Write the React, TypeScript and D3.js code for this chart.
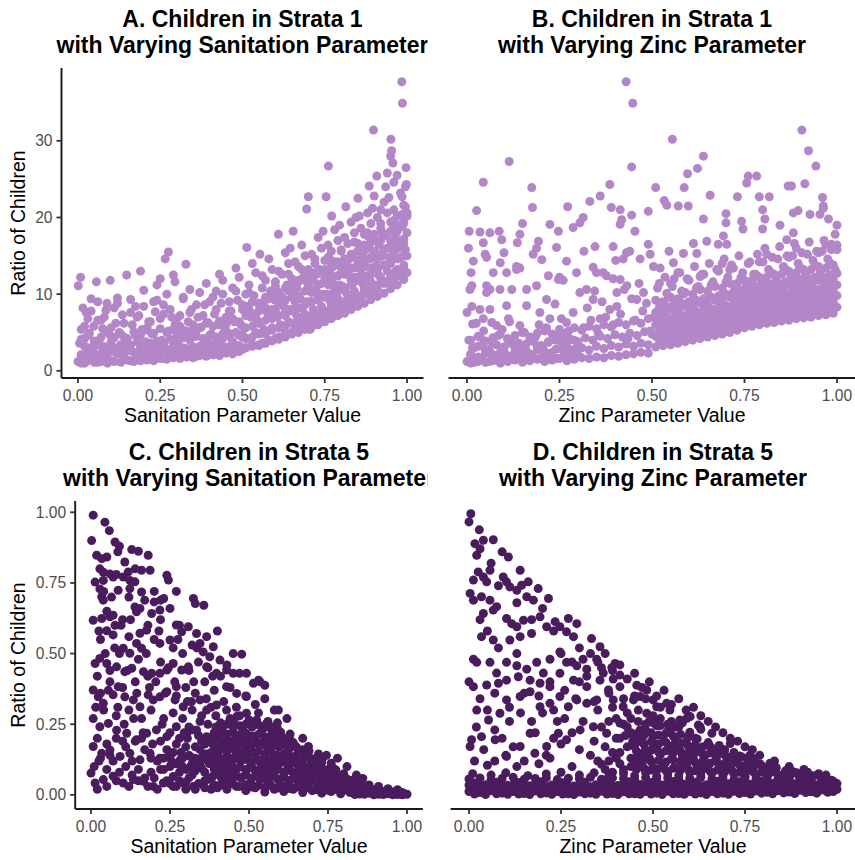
import React from 'react';
import * as d3 from 'd3';

type Pt = [number, number];

// tick values
const xTicks = [0, 0.25, 0.5, 0.75, 1];
const yTicksStrata1 = [0, 10, 20, 30];
const yTicksStrata5 = [0, 0.25, 0.5, 0.75, 1];

// A. strata 1, sanitation parameter (scattered points)
const sanitationStrata1: Pt[] = [
  [0,1.2],[0.01,2.1],[0.02,1.0],[0.03,3.0],[0.005,3.6],[0.04,1.6],[0.02,4.2],[0.045,2.6],[0.01,5.4],[0.03,6.8],[0.015,8.2],[0.04,9.4],[0.008,12.2],[0.001,11.1],[0.035,4.9],[0.05,3.8],[0.025,7.6],[0.048,5.8],
  [0.056,11.6],[0.06,1.1],[0.07,2.0],[0.08,3.1],[0.065,4.0],[0.09,1.4],[0.075,5.5],[0.085,7.9],[0.098,11.8],[0.06,9.0],[0.095,2.7],[0.07,6.6],[0.1,4.5],[0.088,8.8],
  [0.11,1.2],[0.12,2.3],[0.13,3.4],[0.105,3.0],[0.14,1.6],[0.125,5.0],[0.115,6.2],[0.135,7.3],[0.148,12.5],[0.145,2.6],[0.12,9.5],[0.14,4.4],[0.11,8.2],
  [0.16,1.3],[0.17,2.4],[0.18,1.6],[0.155,3.5],[0.19,3.1],[0.175,4.6],[0.165,6.0],[0.185,7.2],[0.19,13.0],[0.2,2.0],[0.16,9.3],[0.195,5.4],[0.175,8.4],[0.2,10.5],
  [0.21,1.4],[0.22,2.6],[0.23,1.8],[0.205,3.8],[0.24,3.3],[0.225,4.8],[0.215,6.4],[0.235,7.7],[0.24,11.2],[0.25,12.0],[0.245,2.2],[0.23,9.0],[0.21,5.6],[0.25,6.8],
  [0.26,1.6],[0.27,2.8],[0.28,2.0],[0.255,4.0],[0.29,3.6],[0.275,5.2],[0.265,14.6],[0.275,15.5],[0.29,12.5],[0.295,11.6],[0.3,2.4],[0.285,7.0],[0.26,8.6],[0.295,6.0],[0.27,10.0],[0.3,4.6],
  [0.31,1.8],[0.32,3.0],[0.33,2.3],[0.305,3.9],[0.34,4.2],[0.315,5.4],[0.328,13.9],[0.335,6.4],[0.345,8.0],[0.32,9.4],[0.35,2.6],[0.31,7.2],[0.35,5.2],[0.34,10.6],
  [0.36,1.9],[0.37,3.2],[0.38,2.5],[0.355,4.5],[0.39,4.0],[0.375,5.7],[0.365,7.0],[0.385,8.6],[0.4,2.2],[0.395,6.3],[0.37,10.2],[0.39,11.4],[0.36,5.2],[0.4,3.6],
  [0.41,2.1],[0.42,3.4],[0.43,2.7],[0.405,4.8],[0.44,4.2],[0.425,6.0],[0.415,7.4],[0.435,8.8],[0.45,2.4],[0.445,5.6],[0.42,10.4],[0.44,11.8],[0.41,9.6],[0.45,7.0],[0.43,12.6],
  [0.46,2.6],[0.47,3.8],[0.48,3.0],[0.455,5.0],[0.49,4.6],[0.475,6.4],[0.465,7.8],[0.485,9.2],[0.5,2.8],[0.495,6.0],[0.47,10.8],[0.49,12.2],[0.46,9.0],[0.5,8.0],[0.48,13.4],[0.5,4.4],
  [0.513,16.1],[0.51,3.0],[0.52,4.2],[0.53,3.4],[0.505,5.6],[0.54,5.0],[0.525,7.0],[0.515,8.4],[0.535,9.8],[0.55,3.4],[0.545,6.6],[0.52,11.2],[0.54,12.8],[0.553,15.2],[0.51,10.0],[0.55,8.6],[0.53,14.0],
  [0.56,3.6],[0.57,4.8],[0.58,4.0],[0.555,6.2],[0.59,5.6],[0.575,7.6],[0.565,9.0],[0.585,10.4],[0.6,4.2],[0.595,7.2],[0.57,11.8],[0.59,13.2],[0.56,12.4],[0.6,9.2],[0.58,14.6],[0.6,11.0],[0.565,5.4],
  [0.609,17.8],[0.61,4.4],[0.62,5.6],[0.63,4.8],[0.605,7.0],[0.64,6.4],[0.625,8.4],[0.615,9.8],[0.635,11.2],[0.65,5.0],[0.645,8.0],[0.62,12.6],[0.64,14.0],[0.61,13.0],[0.65,10.2],[0.63,15.4],[0.65,12.0],[0.615,6.0],[0.645,16.0],
  [0.654,18.2],[0.66,5.4],[0.67,6.6],[0.68,5.8],[0.655,8.0],[0.69,7.4],[0.675,9.4],[0.665,10.8],[0.685,12.2],[0.7,6.0],[0.695,9.0],[0.67,13.6],[0.69,15.0],[0.66,14.2],[0.7,11.2],[0.68,16.4],[0.7,13.2],[0.665,7.2],[0.7,22.7],[0.695,21.1],
  [0.71,6.4],[0.72,7.6],[0.73,6.8],[0.705,9.0],[0.74,8.4],[0.725,10.4],[0.715,11.8],[0.735,13.2],[0.75,7.0],[0.745,10.0],[0.72,14.6],[0.74,16.0],[0.71,15.2],[0.75,12.2],[0.73,17.4],[0.75,14.4],[0.715,8.0],[0.745,18.2],[0.725,12.6],[0.705,5.4],
  [0.754,22.7],[0.761,26.7],[0.771,20.2],[0.76,7.2],[0.77,8.6],[0.78,7.8],[0.755,10.0],[0.79,9.4],[0.775,11.4],[0.765,12.8],[0.785,14.2],[0.8,8.0],[0.795,11.2],[0.77,15.6],[0.79,17.0],[0.76,16.4],[0.8,13.4],[0.78,18.4],[0.8,15.6],[0.765,9.2],[0.795,19.0],[0.775,13.6],
  [0.814,21.4],[0.81,8.2],[0.82,9.6],[0.83,8.8],[0.805,11.0],[0.84,10.4],[0.825,12.4],[0.815,13.8],[0.835,15.2],[0.85,9.0],[0.845,12.2],[0.82,16.6],[0.84,18.0],[0.81,17.4],[0.85,14.4],[0.83,19.4],[0.85,16.6],[0.815,10.2],[0.845,20.0],[0.825,14.6],[0.835,11.4],
  [0.851,22.5],[0.885,24.1],[0.898,31.4],[0.86,9.4],[0.87,10.8],[0.88,10.0],[0.855,12.2],[0.89,11.6],[0.875,13.6],[0.865,15.0],[0.885,16.4],[0.9,10.4],[0.895,13.4],[0.87,17.8],[0.89,19.2],[0.86,18.6],[0.9,15.6],[0.88,20.6],[0.9,17.8],[0.865,11.4],[0.895,21.2],[0.875,15.8],[0.855,20.2],
  [0.9,22.8],[0.908,25.4],[0.94,25.8],[0.91,10.8],[0.92,12.2],[0.93,11.4],[0.905,13.6],[0.94,13.0],[0.925,15.0],[0.915,16.4],[0.935,17.8],[0.95,11.6],[0.945,14.8],[0.92,19.2],[0.94,20.6],[0.91,20.0],[0.95,17.0],[0.93,22.0],[0.95,19.4],[0.915,12.4],[0.945,22.6],[0.925,18.0],[0.951,30.2],[0.953,28.7],[0.95,28.0],[0.935,24.0],
  [0.957,27.1],[0.984,37.7],[0.986,34.9],[0.997,26.5],[0.998,24.3],[0.985,22.7],[0.995,21.4],[0.96,11.8],[0.97,13.2],[0.98,12.4],[0.955,14.6],[0.99,13.8],[0.975,16.0],[0.965,17.4],[0.985,18.8],[1.0,12.8],[0.995,15.8],[0.97,20.2],[0.99,21.6],[0.96,21.0],[1.0,18.0],[0.98,23.2],[1.0,20.2],[0.965,13.0],[0.995,24.0],[0.975,19.0],[0.96,24.6],[0.99,16.6],[1.0,15.0],[0.97,25.5],
  [0.52,8.0],[0.54,7.4],[0.56,8.2],[0.58,9.4],[0.6,8.0],[0.62,9.6],[0.63,7.2],[0.64,10.4],[0.66,9.0],[0.67,11.8],[0.68,8.2],[0.69,12.8],[0.71,10.2],[0.72,12.8],[0.73,9.6],[0.74,11.4],[0.76,11.2],[0.77,14.4],[0.78,10.6],[0.79,12.4],[0.81,12.6],[0.82,14.6],[0.83,11.8],[0.84,13.4],[0.86,13.2],[0.87,16.4],[0.88,12.4],[0.89,14.6],[0.91,14.6],[0.92,17.0],[0.93,13.8],[0.94,16.0],[0.96,15.6],[0.97,18.2],[0.98,14.8],[0.99,19.4],[0.88,18.0],[0.92,21.0],[0.96,19.0],[0.985,20.4],
];

// A. the solid low band, x < 0.5
const sanitationStrata1Band: Pt[] = [
  [0.01,1.0],[0.03,1.3],[0.05,1.1],[0.07,1.2],[0.09,1.0],[0.11,1.3],[0.13,1.1],[0.15,1.4],[0.17,1.2],[0.19,1.3],[0.21,1.5],[0.23,1.3],[0.25,1.6],[0.27,1.5],[0.29,1.7],[0.31,1.6],[0.33,1.8],[0.35,1.7],[0.37,2.0],[0.39,1.9],[0.41,2.1],[0.43,2.0],[0.45,2.3],[0.47,2.2],[0.49,2.5],
  [0.01,2.0],[0.03,2.4],[0.05,1.9],[0.07,2.3],[0.09,2.1],[0.11,2.5],[0.13,2.2],[0.15,2.6],[0.17,2.4],[0.19,2.2],[0.21,2.7],[0.23,2.5],[0.25,2.8],[0.27,2.6],[0.29,3.0],[0.31,2.7],[0.33,2.9],[0.35,3.1],[0.37,2.8],[0.39,3.2],[0.41,3.0],[0.43,3.4],[0.45,3.1],[0.47,3.5],[0.49,3.3],
  [0.02,3.2],[0.04,2.9],[0.06,3.4],[0.08,3.1],[0.1,3.6],[0.12,3.0],[0.14,3.5],[0.16,3.3],[0.18,3.8],[0.2,3.4],[0.22,3.6],[0.24,3.9],[0.26,3.5],[0.28,4.1],[0.3,3.8],[0.32,4.3],[0.34,4.0],[0.36,4.5],[0.38,4.2],[0.4,4.6],[0.42,4.4],[0.44,4.8],[0.46,4.5],[0.48,5.0],[0.5,4.7],
  [0.01,4.1],[0.03,4.6],[0.05,3.9],[0.07,4.4],[0.09,5.0],[0.11,4.3],[0.13,4.8],[0.15,4.2],[0.17,5.1],[0.19,4.7],[0.21,5.3],[0.23,4.9],[0.25,5.5],[0.27,5.0],[0.29,5.4],[0.31,5.8],[0.33,5.2],[0.35,6.0],[0.37,5.6],[0.39,6.2],[0.41,5.8],[0.43,6.5],[0.45,6.0],[0.47,6.8],[0.49,6.4],
  [0.02,5.8],[0.06,6.6],[0.1,5.6],[0.14,6.2],[0.18,7.0],[0.22,6.4],[0.26,7.4],[0.3,6.8],[0.34,7.6],[0.38,7.2],[0.42,8.0],[0.46,7.8],[0.5,8.6],
  [0.04,7.8],[0.08,7.0],[0.12,8.8],[0.16,7.6],[0.2,8.4],[0.24,9.2],[0.28,8.0],[0.32,9.6],[0.36,8.6],[0.4,9.0],[0.44,10.0],[0.48,10.4],
];

// A. the rising mass, x > 0.5
const sanitationStrata1Mass: Pt[] = [
  [0.51,3.0],[0.53,3.2],[0.55,3.3],[0.57,3.6],[0.59,3.9],[0.61,4.1],[0.63,4.4],[0.65,4.8],[0.67,5.0],[0.69,5.4],[0.71,5.7],[0.73,6.0],[0.75,6.4],[0.77,6.8],[0.79,7.2],[0.81,7.5],[0.83,8.0],[0.85,8.4],[0.87,8.8],[0.89,9.3],[0.91,9.7],[0.93,10.1],[0.95,10.7],[0.97,11.2],[0.99,11.9],
  [0.51,4.2],[0.53,4.4],[0.55,4.8],[0.57,5.0],[0.59,5.3],[0.61,5.6],[0.63,5.8],[0.65,6.2],[0.67,6.4],[0.69,6.8],[0.71,7.1],[0.73,7.4],[0.75,7.8],[0.77,8.2],[0.79,8.6],[0.81,9.0],[0.83,9.4],[0.85,9.8],[0.87,10.2],[0.89,10.8],[0.91,11.2],[0.93,11.6],[0.95,12.2],[0.97,12.6],[0.99,13.2],
  [0.51,5.6],[0.53,5.8],[0.55,6.2],[0.57,6.6],[0.59,6.8],[0.61,7.2],[0.63,7.6],[0.65,7.8],[0.67,8.2],[0.69,8.6],[0.71,9.0],[0.73,9.2],[0.75,9.6],[0.77,10.0],[0.79,10.4],[0.81,10.8],[0.83,11.2],[0.85,11.8],[0.87,12.2],[0.89,12.6],[0.91,13.2],[0.93,13.8],[0.95,14.0],[0.97,14.6],[0.99,15.0],
  [0.51,7.2],[0.53,7.0],[0.55,7.8],[0.57,8.2],[0.59,8.0],[0.61,8.8],[0.63,9.2],[0.65,9.6],[0.67,9.8],[0.69,10.4],[0.71,10.6],[0.73,11.2],[0.75,11.6],[0.77,12.0],[0.79,12.4],[0.81,12.8],[0.83,13.4],[0.85,13.8],[0.87,14.4],[0.89,14.8],[0.91,15.2],[0.93,15.8],[0.95,16.2],[0.97,16.8],[0.99,17.2],
  [0.51,8.4],[0.53,9.0],[0.55,8.8],[0.57,9.6],[0.59,10.0],[0.61,10.2],[0.63,10.8],[0.65,11.2],[0.67,11.6],[0.69,11.8],[0.71,12.4],[0.73,12.8],[0.75,13.2],[0.77,13.8],[0.79,14.2],[0.81,14.6],[0.83,15.2],[0.85,15.6],[0.87,16.2],[0.89,16.8],[0.91,17.0],[0.93,17.6],[0.95,18.2],[0.97,18.8],[0.99,19.2],
  [0.52,10.2],[0.56,10.8],[0.6,11.6],[0.64,12.6],[0.68,13.2],[0.72,14.0],[0.76,14.8],[0.8,15.8],[0.84,16.8],[0.88,17.6],[0.92,18.6],[0.96,19.6],[1.0,20.6],
];

// B. strata 1, zinc parameter (scattered points)
const zincStrata1: Pt[] = [
  [0,1.2],[0.01,2.2],[0.02,1.1],[0.03,3.2],[0.005,4.0],[0.04,1.6],[0.05,2.6],[0.06,1.2],[0.07,3.6],[0.08,2.0],[0.09,1.3],[0.1,2.9],[0.11,4.2],[0.12,1.5],[0.13,2.4],[0.14,3.6],[0.15,1.4],[0.16,2.6],[0.17,4.0],[0.18,1.7],[0.19,3.0],[0.2,1.6],[0.21,2.4],[0.22,3.8],[0.23,1.8],[0.24,2.8],[0.25,4.6],[0.26,1.9],[0.27,3.2],[0.28,2.3],[0.29,4.0],[0.3,2.0],
  [0.015,3.0],[0.035,4.4],[0.065,2.2],[0.085,4.6],[0.105,1.8],[0.125,3.4],[0.145,2.0],[0.165,1.5],[0.185,4.4],[0.205,3.2],[0.225,2.0],[0.245,1.6],[0.265,4.0],[0.285,1.8],[0.045,5.2],[0.095,5.4],[0.155,5.0],[0.215,5.6],[0.275,5.2],[0.025,6.2],[0.115,6.4],[0.195,6.0],[0.255,6.8],
  [0.315,5.6],[0.335,6.6],[0.355,4.8],[0.375,7.0],[0.395,6.0],[0.415,7.4],[0.435,4.2],[0.455,6.6],[0.475,7.8],[0.495,5.2],[0.325,8.2],[0.365,9.0],[0.405,8.4],[0.445,9.4],[0.485,8.8],[0.345,10.4],[0.425,10.6],[0.465,11.4],
  [0.505,7.0],[0.525,8.2],[0.545,9.6],[0.565,7.8],[0.585,10.0],[0.605,8.6],[0.625,11.0],[0.645,9.2],[0.665,11.6],[0.685,9.8],[0.705,12.2],[0.725,10.6],[0.745,12.8],
  [0.515,10.8],[0.535,12.2],[0.555,11.0],[0.575,12.8],[0.595,12.0],[0.615,13.6],[0.635,12.6],[0.655,14.0],[0.675,13.2],[0.695,14.6],[0.715,13.8],[0.735,15.0],
  [0.755,11.2],[0.775,12.6],[0.795,11.8],[0.815,13.2],[0.835,12.0],[0.855,13.6],[0.875,12.4],[0.895,14.0],[0.915,12.6],[0.935,14.4],[0.955,13.0],[0.975,14.6],[0.995,13.2],
  [0.765,14.2],[0.785,15.2],[0.805,16.0],[0.825,14.8],[0.845,16.2],[0.865,15.0],[0.885,16.6],[0.905,15.4],[0.925,16.8],[0.945,15.6],[0.965,17.0],[0.985,15.8],[1.0,16.4],
  [0.43,37.7],[0.448,34.9],[0.445,26.6],[0.555,30.2],[0.905,31.4],[0.923,28.7],[0.943,26.7],[0.639,28.0],[0.623,26.4],[0.596,25.7],[0.587,23.9],[0.76,25.4],[0.783,25.4],[0.756,24.5],[0.114,27.3],[0.044,24.6],[0.026,20.9],[0.175,23.9],[0.177,21.3],[0.386,24.3],[0.36,22.8],[0.332,22.1],[0.272,21.4],[0.51,23.9],[0.657,22.9],[0.731,22.7],[0.79,22.7],[0.817,22.7],[0.868,24.1],[0.877,24.1],[0.913,24.4],[0.961,22.6],[0.963,21.5],[1.0,19.0],
  [0.533,22.2],[0.54,21.6],[0.571,21.5],[0.598,21.5],[0.49,20.8],[0.414,21.0],[0.418,19.7],[0.414,19.1],[0.445,20.3],[0.454,18.2],[0.39,21.3],[0.314,20.0],[0.305,19.3],[0.287,18.7],[0.247,18.2],[0.224,19.1],[0.15,19.2],[0.143,17.8],[0.136,16.7],[0.006,18.2],[0.035,18.1],[0.062,18.0],[0.087,18.2],[0.004,16.0],[0.017,14.3],[0.011,12.8],[0.013,11.1],[0.0,7.6],[0.013,8.4],[0.015,6.1],
  [0.044,16.7],[0.049,15.2],[0.053,14.8],[0.094,17.1],[0.1,15.4],[0.09,14.1],[0.071,12.8],[0.062,10.6],[0.053,10.2],[0.107,12.8],[0.121,10.6],[0.134,13.2],[0.143,13.4],[0.193,16.9],[0.188,16.0],[0.202,14.5],[0.179,15.2],[0.22,12.4],[0.242,16.1],[0.269,14.3],[0.25,12.2],[0.26,11.8],[0.296,12.8],[0.316,15.6],[0.346,16.2],[0.341,13.5],[0.368,12.8],[0.377,12.4],[0.395,12.0],[0.395,16.2],[0.402,14.4],[0.422,14.6],[0.431,15.4],[0.44,15.6],[0.468,14.6],[0.49,16.5],[0.495,15.2],[0.504,13.6],[0.522,13.4],[0.546,15.6],[0.558,14.1],[0.585,15.3],[0.612,16.6],[0.621,15.3],[0.648,16.9],[0.679,16.5],[0.702,16.5],
  [0.639,19.8],[0.7,20.5],[0.7,19.3],[0.693,17.6],[0.742,19.5],[0.746,18.5],[0.799,21.0],[0.805,19.8],[0.799,18.5],[0.846,19.0],[0.864,17.1],[0.882,18.0],[0.882,20.6],[0.895,20.9],[0.927,20.4],[0.954,20.4],[0.963,21.2],[0.977,19.8],[0.995,17.8],[0.985,16.5],
  [0.008,10.6],[0.062,8.0],[0.067,6.3],[0.107,8.5],[0.112,6.8],[0.143,5.9],[0.161,8.5],[0.197,7.6],[0.215,9.3],[0.238,8.7],[0.224,6.8],[0.269,6.3],[0.287,7.6],[0.305,10.2],[0.323,10.6],[0.341,9.3],[0.247,11.9],[0.188,11.1],[0.161,10.6],[0.134,13.6],[0.044,6.8],[0.08,5.9],[0.035,8.0],[0.089,10.6],[0.053,11.1],[0.36,6.8],[0.386,8.0],[0.405,10.2],[0.432,11.1],[0.459,9.3],[0.477,10.2],[0.414,11.9],[0.35,12.8],
];

// B. the solid low band, x < 0.5
const zincStrata1Band: Pt[] = [
  [0.01,1.0],[0.03,1.2],[0.05,1.1],[0.07,1.3],[0.09,1.0],[0.11,1.2],[0.13,1.4],[0.15,1.1],[0.17,1.3],[0.19,1.5],[0.21,1.2],[0.23,1.4],[0.25,1.6],[0.27,1.3],[0.29,1.5],[0.31,1.7],[0.33,1.6],[0.35,1.8],[0.37,1.7],[0.39,2.0],[0.41,1.9],[0.43,2.1],[0.45,2.2],[0.47,2.4],[0.49,2.3],
  [0.01,2.0],[0.03,1.8],[0.05,2.3],[0.07,2.1],[0.09,2.4],[0.11,2.0],[0.13,2.6],[0.15,2.3],[0.17,2.2],[0.19,2.7],[0.21,2.5],[0.23,2.4],[0.25,2.9],[0.27,2.6],[0.29,2.8],[0.31,3.0],[0.33,2.7],[0.35,3.2],[0.37,2.9],[0.39,3.3],[0.41,3.1],[0.43,3.5],[0.45,3.2],[0.47,3.6],[0.49,3.4],
  [0.02,3.0],[0.04,3.3],[0.06,2.8],[0.08,3.4],[0.1,3.1],[0.12,3.6],[0.14,3.2],[0.16,3.5],[0.18,3.8],[0.2,3.3],[0.22,3.7],[0.24,4.0],[0.26,3.6],[0.28,4.1],[0.3,3.8],[0.32,4.3],[0.34,4.0],[0.36,4.5],[0.38,4.2],[0.4,4.7],[0.42,4.4],[0.44,4.9],[0.46,4.6],[0.48,5.1],[0.5,4.8],
  [0.01,4.0],[0.03,4.5],[0.05,3.9],[0.07,4.3],[0.09,4.8],[0.11,4.1],[0.13,4.6],[0.15,5.0],[0.17,4.4],[0.19,4.9],[0.21,5.2],[0.23,4.8],[0.25,5.4],[0.27,5.0],[0.29,5.6],[0.31,5.3],[0.33,5.8],[0.35,5.5],[0.37,6.0],[0.39,5.7],[0.41,6.3],[0.43,6.0],[0.45,6.5],[0.47,6.2],[0.49,6.8],
];

// B. the rising mass, x > 0.5
const zincStrata1Mass: Pt[] = [
  [0.51,3.1],[0.53,3.3],[0.55,3.4],[0.57,3.6],[0.59,3.8],[0.61,4.0],[0.63,4.2],[0.65,4.4],[0.67,4.6],[0.69,4.8],[0.71,5.0],[0.73,5.3],[0.75,5.6],[0.77,5.8],[0.79,6.0],[0.81,6.2],[0.83,6.3],[0.85,6.5],[0.87,6.6],[0.89,6.8],[0.91,6.9],[0.93,7.0],[0.95,7.2],[0.97,7.3],[0.99,7.5],
  [0.52,4.0],[0.54,4.1],[0.56,4.4],[0.58,4.4],[0.6,4.8],[0.62,4.9],[0.64,5.0],[0.66,5.4],[0.68,5.4],[0.7,5.8],[0.72,5.9],[0.74,6.3],[0.76,6.4],[0.78,6.8],[0.8,6.9],[0.82,7.0],[0.84,7.3],[0.86,7.3],[0.88,7.6],[0.9,7.6],[0.92,7.8],[0.94,7.9],[0.96,8.1],[0.98,8.2],[1.0,8.3],
  [0.51,4.5],[0.53,4.8],[0.55,4.7],[0.57,5.1],[0.59,5.2],[0.61,5.5],[0.63,5.6],[0.65,5.9],[0.67,6.0],[0.69,6.3],[0.71,6.4],[0.73,6.8],[0.75,7.0],[0.77,7.3],[0.79,7.4],[0.81,7.7],[0.83,7.8],[0.85,8.0],[0.87,8.1],[0.89,8.3],[0.91,8.4],[0.93,8.6],[0.95,8.7],[0.97,8.9],[0.99,9.0],
  [0.52,5.4],[0.54,5.6],[0.56,5.7],[0.58,6.0],[0.6,6.0],[0.62,6.4],[0.64,6.4],[0.66,6.8],[0.68,6.9],[0.7,7.0],[0.72,7.4],[0.74,7.6],[0.76,7.9],[0.78,8.1],[0.8,8.3],[0.82,8.5],[0.84,8.6],[0.86,8.8],[0.88,8.9],[0.9,9.0],[0.92,9.2],[0.94,9.3],[0.96,9.4],[0.98,9.6],[1.0,9.8],
  [0.51,6.0],[0.53,6.2],[0.55,6.4],[0.57,6.5],[0.59,6.8],[0.61,6.9],[0.63,7.2],[0.65,7.3],[0.67,7.6],[0.69,7.7],[0.71,8.0],[0.73,8.2],[0.75,8.4],[0.77,8.6],[0.79,8.8],[0.81,9.0],[0.83,9.2],[0.85,9.4],[0.87,9.6],[0.89,9.7],[0.91,9.8],[0.93,10.0],[0.95,10.2],[0.97,10.3],[0.99,10.4],
  [0.52,6.8],[0.54,7.0],[0.56,7.0],[0.58,7.3],[0.6,7.5],[0.62,7.7],[0.64,7.9],[0.66,8.1],[0.68,8.3],[0.7,8.5],[0.72,8.7],[0.74,9.1],[0.76,9.3],[0.78,9.5],[0.8,9.7],[0.82,9.8],[0.84,10.0],[0.86,10.2],[0.88,10.3],[0.9,10.4],[0.92,10.6],[0.94,10.7],[0.96,10.8],[0.98,11.0],[1.0,11.2],
  [0.51,7.6],[0.53,7.4],[0.55,8.0],[0.57,7.9],[0.59,8.4],[0.61,8.2],[0.63,8.8],[0.65,8.6],[0.67,9.2],[0.69,9.0],[0.71,9.6],[0.73,9.6],[0.75,10.0],[0.77,10.0],[0.79,10.4],[0.81,10.4],[0.83,10.8],[0.85,10.8],[0.87,11.2],[0.89,11.0],[0.91,11.4],[0.93,11.4],[0.95,11.8],[0.97,11.6],[0.99,12.0],
  [0.52,8.3],[0.54,8.4],[0.56,8.7],[0.58,8.8],[0.6,9.0],[0.62,9.2],[0.64,9.4],[0.66,9.6],[0.68,9.8],[0.7,10.0],[0.72,10.3],[0.74,10.5],[0.76,10.8],[0.78,11.0],[0.8,11.2],[0.82,11.3],[0.84,11.5],[0.86,11.6],[0.88,11.8],[0.9,11.9],[0.92,12.1],[0.94,12.2],[0.96,12.3],[0.98,12.5],[1.0,12.7],
  [0.51,9.2],[0.53,9.0],[0.55,9.6],[0.57,9.4],[0.59,10.2],[0.61,10.0],[0.63,10.6],[0.65,10.4],[0.67,11.0],[0.69,10.8],[0.71,11.4],[0.73,11.4],[0.75,11.8],[0.77,11.8],[0.79,12.2],[0.81,12.2],[0.83,12.6],[0.85,12.6],[0.87,13.0],[0.89,12.8],[0.91,13.2],[0.93,13.2],[0.95,13.6],[0.97,13.4],[0.99,13.8],
  [0.54,10.1],[0.58,10.4],[0.62,10.8],[0.66,11.2],[0.7,11.6],[0.74,12.1],[0.78,12.6],[0.82,12.9],[0.86,13.3],[0.9,13.5],[0.94,13.8],[0.98,14.1],
  [0.52,11.4],[0.56,12.0],[0.6,11.8],[0.64,12.6],[0.68,13.0],[0.72,13.4],[0.76,14.0],[0.8,14.2],[0.84,14.6],[0.88,15.0],[0.92,15.2],[0.96,15.6],[1.0,15.8],
  [0.55,11.4],[0.63,12.3],[0.71,13.2],[0.79,14.2],[0.87,14.8],[0.95,15.4],[0.57,12.8],[0.69,14.0],[0.81,15.2],[0.89,16.0],[0.97,16.4],
];

// C. strata 5, sanitation parameter (scattered points)
const sanitationStrata5: Pt[] = [
  [0.007,0.99],[0.044,0.965],[0.058,0.935],[0.002,0.9],[0.076,0.895],[0.09,0.88],[0.085,0.86],[0.129,0.868],[0.15,0.862],[0.181,0.848],[0.16,0.795],[0.187,0.795],[0.24,0.777],[0.245,0.76],[0.27,0.72],[0.324,0.695],[0.33,0.677],[0.357,0.671],[0.4,0.58],[0.477,0.498],[0.53,0.406],[0.55,0.388],[0.593,0.3],[0.688,0.171],[0.733,0.13],[0.767,0.094],[0.83,0.053],
  [0.018,0.848],[0.034,0.836],[0.05,0.842],[0.028,0.8],[0.039,0.788],[0.06,0.782],[0.013,0.753],[0.028,0.729],[0.039,0.759],[0.07,0.771],[0.107,0.824],[0.118,0.789],[0.102,0.771],[0.123,0.759],[0.139,0.754],[0.086,0.724],[0.034,0.701],[0.039,0.689],[0.123,0.73],[0.16,0.718],[0.17,0.689],[0.2,0.683],[0.22,0.689],[0.23,0.695],[0.139,0.665],[0.144,0.648],[0.192,0.642],[0.218,0.654],
  [0.007,0.618],[0.034,0.624],[0.06,0.63],[0.07,0.636],[0.076,0.6],[0.05,0.581],[0.07,0.566],[0.27,0.601],[0.287,0.577],[0.308,0.595],[0.25,0.548],[0.218,0.536],[0.155,0.572],[0.176,0.583],[0.144,0.536],[0.16,0.519],[0.102,0.519],[0.123,0.501],[0.028,0.483],[0.05,0.465],[0.013,0.465],[0.081,0.453],[0.107,0.436],[0.129,0.448],
  [0.166,0.436],[0.192,0.43],[0.218,0.43],[0.24,0.442],[0.26,0.465],[0.287,0.442],[0.308,0.453],[0.334,0.571],[0.345,0.536],[0.366,0.56],[0.387,0.524],[0.355,0.506],[0.376,0.489],[0.408,0.477],[0.366,0.453],[0.397,0.43],[0.429,0.442],[0.45,0.43],[0.492,0.43],[0.514,0.395],[0.535,0.4],[0.429,0.383],[0.461,0.359],[0.492,0.348],
  [0.06,0.4],[0.086,0.383],[0.07,0.354],[0.007,0.371],[0.023,0.347],[0.039,0.324],[0.107,0.347],[0.134,0.336],[0.155,0.312],[0.181,0.354],[0.197,0.336],[0.218,0.347],[0.24,0.365],[0.27,0.383],[0.266,0.336],[0.292,0.312],[0.318,0.33],[0.345,0.336],[0.366,0.3],[0.397,0.318],[0.429,0.3],[0.461,0.277],[0.492,0.289],[0.524,0.265],[0.556,0.254],[0.588,0.242],[0.577,0.218],
  [0.007,0.27],[0.028,0.241],[0.055,0.253],[0.081,0.229],[0.113,0.218],[0.144,0.195],[0.176,0.218],[0.207,0.23],[0.24,0.206],[0.27,0.241],[0.303,0.218],[0.334,0.23],[0.366,0.206],[0.397,0.218],[0.007,0.171],[0.034,0.147],[0.06,0.159],[0.092,0.136],[0.123,0.147],[0.155,0.124],[0.187,0.147],[0.218,0.13],[0.25,0.142],[0.282,0.124],[0.313,0.136],[0.345,0.118],[0.376,0.13],
  [0,0.077],[0.013,0.042],[0.039,0.054],[0.07,0.066],[0.102,0.042],[0.134,0.054],[0.166,0.048],[0.197,0.03],[0.229,0.042],[0.26,0.03],[0.292,0.042],[0.324,0.03],[0.355,0.036],[0.387,0.03],
  [0.2,0.06],[0.23,0.09],[0.26,0.065],[0.29,0.1],[0.32,0.07],[0.35,0.095],[0.38,0.06],[0.21,0.12],[0.24,0.16],[0.27,0.11],[0.3,0.17],[0.33,0.13],[0.36,0.18],[0.39,0.12],[0.22,0.19],[0.25,0.22],[0.28,0.2],[0.31,0.24],[0.34,0.21],[0.37,0.25],[0.39,0.22],[0.23,0.27],[0.26,0.29],[0.29,0.27],[0.32,0.3],[0.35,0.28],[0.38,0.31],[0.27,0.35],[0.3,0.38],[0.33,0.36],[0.36,0.4],[0.39,0.37],[0.31,0.44],[0.34,0.47],[0.37,0.45],[0.29,0.5],[0.32,0.53],[0.42,0.33],[0.41,0.42],[0.44,0.38],[0.43,0.46],[0.47,0.43],[0.45,0.5],
  [0.01,0.1],[0.03,0.13],[0.05,0.09],[0.07,0.12],[0.09,0.08],[0.11,0.1],[0.13,0.07],[0.15,0.09],[0.17,0.06],[0.19,0.08],[0.02,0.2],[0.05,0.18],[0.08,0.2],[0.11,0.17],[0.14,0.19],[0.17,0.16],[0.04,0.3],[0.08,0.28],[0.12,0.3],[0.16,0.27],[0.19,0.3],[0.03,0.36],[0.1,0.38],[0.14,0.4],[0.18,0.42],[0.06,0.44],[0.09,0.5],[0.03,0.55],[0.12,0.56],[0.2,0.55],[0.05,0.65],[0.1,0.62],[0.18,0.6],[0.22,0.62],[0.04,0.72],[0.08,0.78],[0.12,0.7],[0.14,0.8],[0.2,0.72],[0.25,0.66],[0.28,0.6],[0.26,0.52],[0.22,0.47],[0.15,0.48],[0.02,0.42],
  [0.015,0.31],[0.025,0.58],[0.045,0.5],[0.055,0.37],[0.065,0.7],[0.075,0.52],[0.085,0.31],[0.095,0.6],[0.105,0.25],[0.115,0.44],[0.125,0.62],[0.135,0.27],[0.145,0.36],[0.155,0.66],[0.165,0.22],[0.175,0.5],[0.185,0.38],[0.195,0.18],[0.205,0.4],[0.215,0.58],[0.225,0.25],[0.235,0.36],[0.245,0.45],[0.255,0.12],[0.265,0.4],[0.275,0.55],[0.285,0.15],[0.295,0.22],[0.305,0.33],[0.315,0.1],[0.325,0.4],[0.335,0.52],[0.345,0.26],[0.355,0.14],[0.365,0.34],[0.375,0.2],[0.385,0.42],[0.395,0.28],
  [0.02,0.02],[0.05,0.03],[0.08,0.05],[0.12,0.03],[0.15,0.05],[0.18,0.03],[0.21,0.02],[0.24,0.05],[0.27,0.03],[0.3,0.045],[0.33,0.02],[0.36,0.05],[0.39,0.035],[0.025,0.12],[0.06,0.14],[0.1,0.19],[0.13,0.12],[0.16,0.2],[0.19,0.13],[0.22,0.09],[0.25,0.1],[0.28,0.08],[0.31,0.14],[0.34,0.1],[0.37,0.12],[0.4,0.1],[0.4,0.16],[0.385,0.18],
  [0.3,0.02],[0.31,0.06],[0.32,0.11],[0.33,0.17],[0.34,0.04],[0.35,0.13],[0.36,0.08],[0.37,0.2],[0.38,0.02],[0.38,0.15],[0.39,0.09],[0.395,0.24],[0.36,0.025],[0.37,0.055],[0.33,0.085],[0.35,0.19],[0.32,0.23],[0.385,0.065],[0.375,0.11],[0.345,0.16],[0.395,0.17],[0.365,0.145],[0.305,0.2],[0.29,0.13],[0.28,0.05],[0.3,0.09],[0.26,0.15],[0.27,0.18],[0.25,0.04],[0.23,0.13],
];

// C. the dense lower-right wedge
const sanitationStrata5Wedge: Pt[] = [
  [0.4,0.025],[0.43,0.02],[0.46,0.03],[0.49,0.015],[0.52,0.025],[0.55,0.01],[0.58,0.02],[0.61,0.012],[0.64,0.02],[0.67,0.008],[0.7,0.015],[0.73,0.006],[0.76,0.012],[0.79,0.004],[0.82,0.008],[0.85,0.003],[0.88,0.006],[0.91,0.002],[0.94,0.004],[0.97,0.001],[1.0,0.002],[0.985,0],[0.955,0],[0.925,0.001],[0.895,0],[0.865,0.002],[0.835,0.001],
  [0.41,0.035],[0.43,0.03],[0.45,0.038],[0.47,0.03],[0.49,0.036],[0.51,0.028],[0.53,0.034],[0.55,0.026],[0.57,0.032],[0.59,0.024],[0.61,0.03],[0.63,0.022],[0.65,0.028],[0.67,0.02],[0.69,0.025],[0.71,0.018],[0.73,0.022],[0.75,0.016],[0.77,0.019],[0.79,0.014],[0.81,0.016],[0.83,0.012],[0.85,0.013],[0.87,0.01],[0.89,0.011],[0.91,0.008],[0.93,0.009],[0.95,0.006],[0.97,0.007],[0.99,0.005],
  [0.415,0.055],[0.445,0.05],[0.475,0.06],[0.505,0.045],[0.535,0.055],[0.565,0.04],[0.595,0.05],[0.625,0.04],[0.655,0.048],[0.685,0.035],[0.715,0.042],[0.745,0.03],[0.775,0.035],[0.805,0.025],[0.835,0.028],[0.865,0.02],[0.895,0.018],[0.925,0.012],[0.955,0.01],[0.985,0.008],[0.97,0.018],[0.94,0.022],[0.91,0.03],
  [0.41,0.066],[0.43,0.06],[0.45,0.068],[0.47,0.062],[0.49,0.07],[0.51,0.06],[0.53,0.066],[0.55,0.058],[0.57,0.064],[0.59,0.056],[0.61,0.062],[0.63,0.052],[0.65,0.058],[0.67,0.05],[0.69,0.055],[0.71,0.046],[0.73,0.05],[0.75,0.042],[0.77,0.046],[0.79,0.038],[0.81,0.04],[0.83,0.034],[0.85,0.036],[0.87,0.03],
  [0.4,0.085],[0.43,0.08],[0.46,0.09],[0.49,0.075],[0.52,0.085],[0.55,0.07],[0.58,0.08],[0.61,0.07],[0.64,0.078],[0.67,0.065],[0.7,0.07],[0.73,0.058],[0.76,0.06],[0.79,0.05],[0.82,0.048],[0.85,0.04],[0.88,0.035],[0.8,0.075],[0.86,0.058],
  [0.41,0.095],[0.43,0.1],[0.45,0.092],[0.47,0.098],[0.49,0.09],[0.51,0.096],[0.53,0.088],[0.55,0.094],[0.57,0.085],[0.59,0.09],[0.61,0.082],[0.63,0.086],[0.65,0.078],[0.67,0.082],[0.69,0.074],[0.71,0.076],[0.73,0.068],[0.75,0.07],[0.77,0.062],[0.79,0.064],[0.81,0.056],
  [0.415,0.115],[0.445,0.11],[0.475,0.12],[0.505,0.105],[0.535,0.115],[0.565,0.1],[0.595,0.11],[0.625,0.1],[0.655,0.105],[0.685,0.095],[0.715,0.098],[0.745,0.085],[0.775,0.088],[0.81,0.1],[0.84,0.07],
  [0.41,0.128],[0.43,0.122],[0.45,0.13],[0.47,0.124],[0.49,0.126],[0.51,0.118],[0.53,0.124],[0.55,0.116],[0.57,0.12],[0.59,0.112],[0.61,0.116],[0.63,0.108],[0.65,0.11],[0.67,0.104],[0.69,0.1],[0.71,0.098],[0.73,0.094],[0.75,0.09],[0.77,0.088],
  [0.4,0.145],[0.43,0.14],[0.46,0.15],[0.49,0.135],[0.52,0.145],[0.55,0.13],[0.58,0.14],[0.61,0.13],[0.64,0.135],[0.67,0.125],[0.7,0.128],[0.73,0.115],[0.76,0.112],[0.78,0.13],
  [0.41,0.16],[0.43,0.155],[0.45,0.162],[0.47,0.15],[0.49,0.158],[0.51,0.148],[0.53,0.155],[0.55,0.145],[0.57,0.15],[0.59,0.14],[0.61,0.145],[0.63,0.136],[0.65,0.138],[0.67,0.13],[0.69,0.128],[0.71,0.122],[0.73,0.118],
  [0.415,0.175],[0.445,0.17],[0.475,0.18],[0.505,0.165],[0.535,0.175],[0.565,0.16],[0.595,0.17],[0.625,0.16],[0.655,0.158],[0.685,0.15],[0.72,0.145],[0.745,0.14],
  [0.41,0.19],[0.43,0.186],[0.45,0.192],[0.47,0.18],[0.49,0.188],[0.51,0.178],[0.53,0.184],[0.55,0.175],[0.57,0.18],[0.59,0.172],[0.61,0.176],[0.63,0.168],[0.65,0.17],[0.67,0.16],[0.69,0.155],
  [0.4,0.205],[0.43,0.2],[0.46,0.21],[0.49,0.195],[0.52,0.205],[0.55,0.19],[0.58,0.2],[0.61,0.19],[0.64,0.185],[0.67,0.2],
  [0.41,0.22],[0.43,0.215],[0.45,0.222],[0.47,0.21],[0.49,0.218],[0.51,0.208],[0.53,0.214],[0.55,0.205],[0.57,0.21],[0.59,0.2],[0.61,0.2],[0.63,0.195],
  [0.415,0.235],[0.45,0.24],[0.48,0.23],[0.51,0.245],[0.54,0.225],[0.57,0.235],[0.6,0.222],[0.63,0.215],
  [0.41,0.255],[0.43,0.25],[0.45,0.26],[0.47,0.245],[0.49,0.25],[0.51,0.24],[0.53,0.248],[0.55,0.238],[0.57,0.24],[0.59,0.232],
  [0.44,0.27],[0.47,0.28],[0.5,0.265],[0.53,0.29],[0.56,0.26],[0.59,0.255],[0.62,0.27],[0.46,0.31],[0.52,0.32],[0.58,0.3],[0.49,0.35],[0.55,0.34],
];

// D. strata 5, zinc parameter (scattered points)
const zincStrata5: Pt[] = [
  [0.005,0.995],[0,0.966],[0.028,0.938],[0.066,0.903],[0.107,0.842],[0.139,0.795],[0.161,0.754],[0.188,0.73],[0.216,0.695],[0.27,0.624],[0.293,0.606],[0.333,0.553],[0.356,0.524],[0.397,0.465],[0.41,0.424],[0.456,0.388],[0.483,0.371],[0.5,0.336],[0.546,0.3],[0.592,0.271],[0.623,0.247],[0.66,0.218],[0.71,0.182],[0.764,0.141],[0.818,0.112],[0.881,0.082],[0.954,0.065],[1.0,0.04],
  [0.016,0.889],[0.03,0.871],[0.039,0.901],[0.021,0.848],[0.025,0.789],[0.039,0.771],[0.057,0.795],[0.012,0.76],[0.048,0.754],[0.003,0.713],[0.012,0.689],[0.034,0.701],[0.057,0.689],[0.075,0.666],[0.039,0.642],[0.066,0.654],
  [0.093,0.771],[0.102,0.754],[0.111,0.736],[0.13,0.724],[0.143,0.742],[0.157,0.701],[0.175,0.689],[0.102,0.624],[0.116,0.606],[0.13,0.595],[0.148,0.618],[0.193,0.63],[0.211,0.595],[0.234,0.613],[0.247,0.595],[0.265,0.577],[0.284,0.56],
  [0.034,0.56],[0.066,0.548],[0.111,0.548],[0.139,0.56],[0.17,0.571],[0.012,0.48],[0.021,0.469],[0.057,0.469],[0.075,0.431],[0.102,0.469],[0.13,0.457],[0.157,0.445],[0.184,0.469],[0.202,0.431],[0.22,0.48],[0.247,0.506],[0.265,0.469],[0.293,0.457],[0.32,0.445],[0.347,0.48],[0.365,0.431],[0.388,0.45],[0.392,0.41],
  [0,0.4],[0.012,0.383],[0.048,0.389],[0.08,0.395],[0.102,0.406],[0.134,0.418],[0.166,0.406],[0.193,0.395],[0.22,0.383],[0.247,0.43],[0.284,0.406],[0.32,0.383],[0.356,0.406],[0.379,0.371],[0.41,0.383],
  [0.021,0.3],[0.053,0.265],[0.084,0.289],[0.102,0.336],[0.139,0.348],[0.166,0.365],[0.193,0.312],[0.22,0.324],[0.247,0.348],[0.27,0.312],[0.293,0.336],[0.32,0.324],[0.347,0.336],[0.392,0.336],[0.419,0.312],[0.447,0.336],[0.465,0.348],[0.483,0.289],[0.51,0.312],[0.537,0.324],
  [0.003,0.171],[0.007,0.195],[0.034,0.206],[0.071,0.195],[0.102,0.136],[0.139,0.171],[0.166,0.218],[0.179,0.147],[0.211,0.171],[0.243,0.218],[0.265,0.195],[0.302,0.23],[0.338,0.241],[0.374,0.218],[0.41,0.254],[0.437,0.218],[0.465,0.23],[0.501,0.265],[0.546,0.23],[0.573,0.265],[0.601,0.277],[0.628,0.241],
  [0.3,0.16],[0.34,0.19],[0.37,0.17],[0.41,0.2],[0.44,0.22],[0.36,0.24],[0.4,0.27],[0.43,0.29],[0.46,0.3],[0.39,0.31],[0.42,0.34],[0.45,0.35],[0.48,0.34],[0.5,0.28],[0.52,0.31],[0.38,0.36],[0.35,0.3],[0.31,0.26],[0.28,0.22],[0.25,0.18],[0.24,0.26],[0.29,0.34],[0.32,0.42],[0.36,0.45],[0.28,0.47],[0.25,0.5],[0.3,0.52],[0.23,0.58],[0.2,0.66],[0.17,0.62],[0.13,0.68],[0.08,0.74],[0.06,0.82],[0.09,0.86],[0.05,0.58],[0.08,0.52],[0.13,0.5],[0.03,0.62],
  [0.015,0.12],[0.04,0.16],[0.07,0.12],[0.09,0.2],[0.12,0.17],[0.15,0.12],[0.18,0.22],[0.21,0.14],[0.23,0.2],[0.02,0.24],[0.05,0.3],[0.07,0.23],[0.11,0.26],[0.14,0.29],[0.17,0.26],[0.2,0.29],[0.23,0.3],[0.26,0.27],[0.03,0.34],[0.07,0.36],[0.11,0.31],[0.15,0.36],[0.19,0.35],[0.22,0.4],[0.26,0.37],[0.3,0.4],[0.34,0.33],[0.38,0.26],[0.42,0.25],[0.44,0.27],
  [0.31,0.48],[0.33,0.5],[0.35,0.47],[0.37,0.5],[0.39,0.44],[0.41,0.46],[0.43,0.41],[0.45,0.43],[0.47,0.38],[0.49,0.4],[0.51,0.35],[0.53,0.37],[0.55,0.32],[0.57,0.34],[0.59,0.3],[0.61,0.31],[0.63,0.28],[0.65,0.26],[0.67,0.24],[0.69,0.22],[0.71,0.2],[0.73,0.19],[0.75,0.17],[0.77,0.16],[0.79,0.14],[0.83,0.12],[0.87,0.1],[0.91,0.09],[0.97,0.07],
  [0.37,0.09],[0.39,0.15],[0.41,0.11],[0.43,0.17],[0.44,0.13],[0.42,0.09],[0.4,0.2],[0.38,0.12],[0.445,0.19],[0.425,0.21],[0.35,0.12],[0.43,0.24],[0.41,0.15],[0.39,0.08],
];

// D. the bottom band and lower-right wedge
const zincStrata5Wedge: Pt[] = [
  [0,0.012],[0.03,0.008],[0.06,0.015],[0.09,0.006],[0.12,0.012],[0.15,0.005],[0.18,0.014],[0.21,0.007],[0.24,0.012],[0.27,0.004],[0.3,0.01],[0.33,0.006],[0.36,0.013],[0.39,0.005],[0.42,0.011],[0.45,0.004],[0.48,0.012],[0.51,0.006],[0.54,0.013],[0.57,0.005],[0.6,0.011],[0.63,0.007],[0.66,0.012],[0.69,0.006],[0.72,0.013],[0.75,0.008],[0.78,0.014],[0.81,0.009],[0.84,0.015],[0.87,0.01],[0.9,0.016],[0.93,0.011],[0.96,0.017],[0.99,0.012],[1.0,0.02],
  [0.015,0.003],[0.045,0.001],[0.075,0.004],[0.105,0.002],[0.135,0.003],[0.165,0.001],[0.195,0.004],[0.225,0.002],[0.255,0.003],[0.285,0.001],[0.315,0.004],[0.345,0.002],[0.375,0.003],[0.405,0.001],[0.435,0.004],[0.465,0.002],[0.495,0.003],[0.525,0.001],[0.555,0.004],[0.585,0.002],[0.615,0.003],[0.645,0.001],[0.675,0.004],[0.705,0.002],[0.735,0.005],[0.765,0.003],[0.795,0.006],[0.825,0.004],[0.855,0.007],[0.885,0.005],[0.915,0.008],[0.945,0.006],[0.975,0.009],
  [0.015,0.024],[0.045,0.02],[0.075,0.026],[0.105,0.018],[0.135,0.025],[0.165,0.02],[0.195,0.027],[0.225,0.019],[0.255,0.024],[0.285,0.021],[0.315,0.026],[0.345,0.018],[0.375,0.025],[0.405,0.02],[0.435,0.027],[0.465,0.019],[0.495,0.024],[0.525,0.021],[0.555,0.026],[0.585,0.018],[0.615,0.025],[0.645,0.02],[0.675,0.027],[0.705,0.019],[0.735,0.024],[0.765,0.021],[0.795,0.026],[0.825,0.018],[0.855,0.025],[0.885,0.02],[0.915,0.027],[0.945,0.019],[0.975,0.024],
  [0,0.034],[0.03,0.031],[0.06,0.036],[0.09,0.03],[0.12,0.035],[0.15,0.032],[0.18,0.037],[0.21,0.03],[0.24,0.034],[0.27,0.031],[0.3,0.036],[0.33,0.029],[0.36,0.035],[0.39,0.032],[0.42,0.036],[0.45,0.03],[0.48,0.034],[0.51,0.031],[0.54,0.037],[0.57,0.03],[0.6,0.035],[0.63,0.032],[0.66,0.036],[0.69,0.03],[0.72,0.034],[0.75,0.031],[0.78,0.036],[0.81,0.03],[0.84,0.034],[0.87,0.029],[0.9,0.033],[0.93,0.028],[0.96,0.031],[0.99,0.027],
  [0.015,0.042],[0.045,0.036],[0.075,0.045],[0.105,0.034],[0.135,0.044],[0.165,0.032],[0.195,0.046],[0.225,0.035],[0.255,0.043],[0.285,0.031],[0.315,0.045],[0.345,0.036],[0.375,0.042],[0.405,0.033],[0.435,0.046],[0.465,0.037],[0.495,0.044],[0.525,0.035],[0.555,0.047],[0.585,0.038],[0.615,0.045],[0.645,0.036],[0.675,0.048],[0.705,0.039],[0.735,0.046],[0.765,0.038],[0.795,0.047],[0.825,0.04],[0.855,0.046],[0.885,0.039],[0.915,0.044],[0.945,0.036],[0.975,0.042],[0.995,0.035],
  [0,0.056],[0.03,0.06],[0.06,0.054],[0.09,0.058],[0.12,0.062],[0.15,0.055],[0.18,0.058],[0.21,0.061],[0.24,0.054],[0.27,0.059],[0.3,0.057],[0.33,0.062],[0.36,0.055],[0.39,0.06],[0.42,0.058],[0.45,0.054],[0.48,0.061],[0.51,0.057],[0.54,0.06],[0.57,0.055],[0.6,0.059],[0.63,0.062],[0.66,0.056],[0.69,0.058],[0.72,0.054],[0.75,0.06],[0.78,0.057],[0.81,0.055],[0.84,0.058],[0.87,0.052],[0.9,0.055],[0.93,0.05],[0.96,0.052],[0.99,0.048],
  [0.01,0.075],[0.06,0.07],[0.1,0.078],[0.16,0.068],[0.21,0.074],[0.25,0.08],[0.3,0.07],[0.34,0.078],[0.38,0.068],[0.42,0.076],[0.45,0.068],[0.48,0.078],[0.51,0.066],[0.54,0.075],[0.57,0.068],[0.6,0.078],[0.63,0.07],[0.66,0.076],[0.69,0.068],[0.72,0.074],[0.75,0.066],[0.78,0.072],[0.81,0.064],[0.84,0.07],[0.87,0.062],[0.9,0.066],[0.93,0.058],[0.96,0.06],[0.985,0.052],
  [0.455,0.09],[0.475,0.095],[0.495,0.088],[0.515,0.092],[0.535,0.086],[0.555,0.094],[0.575,0.088],[0.595,0.092],[0.615,0.085],[0.635,0.09],[0.655,0.084],[0.675,0.088],[0.695,0.082],[0.715,0.086],[0.735,0.08],[0.755,0.084],[0.775,0.078],[0.795,0.08],[0.815,0.075],[0.835,0.078],[0.855,0.072],[0.875,0.074],[0.895,0.07],[0.915,0.072],[0.935,0.068],
  [0.05,0.105],[0.13,0.1],[0.19,0.11],[0.28,0.1],[0.36,0.108],[0.44,0.1],[0.47,0.11],[0.5,0.098],[0.53,0.108],[0.56,0.096],[0.59,0.106],[0.62,0.098],[0.65,0.108],[0.68,0.095],[0.71,0.104],[0.74,0.094],[0.77,0.1],[0.8,0.09],[0.83,0.096],[0.86,0.085],[0.89,0.078],[0.92,0.08],[0.95,0.075],
  [0.455,0.12],[0.475,0.125],[0.495,0.118],[0.515,0.122],[0.535,0.116],[0.555,0.124],[0.575,0.118],[0.595,0.12],[0.615,0.114],[0.635,0.118],[0.655,0.112],[0.675,0.116],[0.695,0.11],[0.715,0.112],[0.735,0.106],[0.755,0.108],[0.775,0.102],[0.795,0.104],[0.815,0.098],[0.835,0.096],
  [0.46,0.14],[0.49,0.13],[0.52,0.142],[0.55,0.128],[0.58,0.138],[0.61,0.126],[0.64,0.136],[0.67,0.124],[0.7,0.132],[0.73,0.12],[0.76,0.125],[0.79,0.11],[0.82,0.1],[0.4,0.13],[0.33,0.14],[0.22,0.13],[0.1,0.14],
  [0.455,0.155],[0.475,0.15],[0.495,0.158],[0.515,0.152],[0.535,0.156],[0.555,0.148],[0.575,0.154],[0.595,0.146],[0.615,0.15],[0.635,0.144],[0.655,0.148],[0.675,0.14],[0.695,0.142],[0.715,0.136],[0.735,0.138],[0.755,0.13],[0.775,0.128],
  [0.45,0.17],[0.48,0.16],[0.51,0.172],[0.54,0.158],[0.57,0.168],[0.6,0.156],[0.63,0.165],[0.66,0.152],[0.69,0.16],[0.72,0.15],[0.74,0.135],
  [0.455,0.185],[0.475,0.18],[0.495,0.188],[0.515,0.18],[0.535,0.186],[0.555,0.176],[0.575,0.182],[0.595,0.174],[0.615,0.178],[0.635,0.17],[0.655,0.172],[0.675,0.165],[0.695,0.16],
  [0.47,0.195],[0.5,0.205],[0.53,0.19],[0.56,0.2],[0.59,0.188],[0.62,0.198],[0.65,0.185],[0.68,0.175],
  [0.455,0.215],[0.475,0.21],[0.495,0.22],[0.515,0.212],[0.535,0.218],[0.555,0.208],[0.575,0.214],[0.595,0.205],[0.615,0.2],
  [0.48,0.23],[0.51,0.245],[0.54,0.225],[0.57,0.24],[0.6,0.222],[0.63,0.232],[0.52,0.27],[0.55,0.26],[0.58,0.255],[0.49,0.26],
  [0.46,0.26],[0.48,0.25],[0.5,0.255],[0.52,0.245],[0.54,0.25],[0.56,0.24],
];

const lightPurple = '#B386C8';
const darkPurple = '#4A1C5E';
const font = '"Liberation Sans", Arial, Helvetica, sans-serif';

interface PanelProps {
  id: string;
  data: Pt[];
  color: string;
  left: number;
  right: number;
  top: number;
  bottom: number;
  yDomain: [number, number];
  yTicks: number[];
  yFmt: (v: number) => string;
  showY: boolean;
  title: string[];
  xLabel: string;
  clip: [number, number];
}

const Panel = (p: PanelProps) => {
  const x = d3.scaleLinear().domain([-0.05, 1.05]).range([p.left, p.right]);
  const y = d3.scaleLinear().domain(p.yDomain).range([p.bottom, p.top]);
  const cx = (p.left + p.right) / 2;
  const xFmt = d3.format('.2f');

  return (
    <g>
      <clipPath id={p.id}>
        <rect x={p.clip[0]} y={0} width={p.clip[1] - p.clip[0]} height={860} />
      </clipPath>
      <g clipPath={`url(#${p.id})`} fontFamily={font}>
        {/* title, clipped at the cell edge like the original */}
        <text x={cx} y={p.top - 41.5} textAnchor="middle" fontSize={23} fontWeight="bold" fill="#000">
          {p.title[0]}
        </text>
        <text x={cx} y={p.top - 15.5} textAnchor="middle" fontSize={23} fontWeight="bold" fill="#000">
          {p.title[1]}
        </text>

        {p.data.map((d, i) => (
          <circle key={i} cx={x(d[0])} cy={y(d[1])} r={4.5} fill={p.color} />
        ))}

        {/* x axis */}
        <line x1={p.left} x2={p.right} y1={p.bottom} y2={p.bottom} stroke="#1a1a1a" strokeWidth={1.9} />
        {xTicks.map(t => (
          <g key={t}>
            <line x1={x(t)} x2={x(t)} y1={p.bottom} y2={p.bottom + 5} stroke="#333" strokeWidth={1.8} />
            <text x={x(t)} y={p.bottom + 22.5} textAnchor="middle" fontSize={15.6} fill="#4d4d4d">
              {xFmt(t)}
            </text>
          </g>
        ))}
        <text x={cx} y={p.bottom + 44} textAnchor="middle" fontSize={19.5} fill="#000">
          {p.xLabel}
        </text>

        {/* y axis, left column only */}
        {p.showY && (
          <g>
            <line x1={p.left} x2={p.left} y1={p.top} y2={p.bottom} stroke="#1a1a1a" strokeWidth={1.9} />
            {p.yTicks.map(t => (
              <g key={t}>
                <line x1={p.left - 5} x2={p.left} y1={y(t)} y2={y(t)} stroke="#333" strokeWidth={1.8} />
                <text x={p.left - 9} y={y(t) + 5.5} textAnchor="end" fontSize={15.6} fill="#4d4d4d">
                  {p.yFmt(t)}
                </text>
              </g>
            ))}
            <text
              transform={`translate(25,${(p.top + p.bottom) / 2}) rotate(-90)`}
              textAnchor="middle"
              fontSize={19.5}
              fill="#000"
            >
              Ratio of Children
            </text>
          </g>
        )}
      </g>
    </g>
  );
};

const App = () => {
  const intFmt = d3.format('d');
  const decFmt = d3.format('.2f');
  return (
    <svg width={855} height={860} style={{ position: 'absolute', left: 0, top: 0 }}>
      <rect width={855} height={860} fill="#fff" />
      <Panel
        id="clipA" data={[...sanitationStrata1, ...sanitationStrata1Band, ...sanitationStrata1Mass]} color={lightPurple}
        left={61.5} right={423.5} top={68} bottom={378}
        yDomain={[-0.94, 39.5]} yTicks={yTicksStrata1} yFmt={intFmt} showY
        title={['A. Children in Strata 1', 'with Varying Sanitation Parameter']}
        xLabel="Sanitation Parameter Value" clip={[0, 427.5]}
      />
      <Panel
        id="clipB" data={[...zincStrata1, ...zincStrata1Band, ...zincStrata1Mass]} color={lightPurple}
        left={448.5} right={855.5} top={68} bottom={378}
        yDomain={[-0.94, 39.5]} yTicks={yTicksStrata1} yFmt={intFmt} showY={false}
        title={['B. Children in Strata 1', 'with Varying Zinc Parameter']}
        xLabel="Zinc Parameter Value" clip={[427.5, 855]}
      />
      <Panel
        id="clipC" data={[...sanitationStrata5, ...sanitationStrata5Wedge]} color={darkPurple}
        left={75.2} right={422.8} top={501} bottom={809}
        yDomain={[-0.05, 1.04]} yTicks={yTicksStrata5} yFmt={decFmt} showY
        title={['C. Children in Strata 5', 'with Varying Sanitation Parameter']}
        xLabel="Sanitation Parameter Value" clip={[0, 427.5]}
      />
      <Panel
        id="clipD" data={[...zincStrata5, ...zincStrata5Wedge]} color={darkPurple}
        left={450.6} right={855.4} top={501} bottom={809}
        yDomain={[-0.05, 1.04]} yTicks={yTicksStrata5} yFmt={decFmt} showY={false}
        title={['D. Children in Strata 5', 'with Varying Zinc Parameter']}
        xLabel="Zinc Parameter Value" clip={[427.5, 855]}
      />
    </svg>
  );
};

export default App;
